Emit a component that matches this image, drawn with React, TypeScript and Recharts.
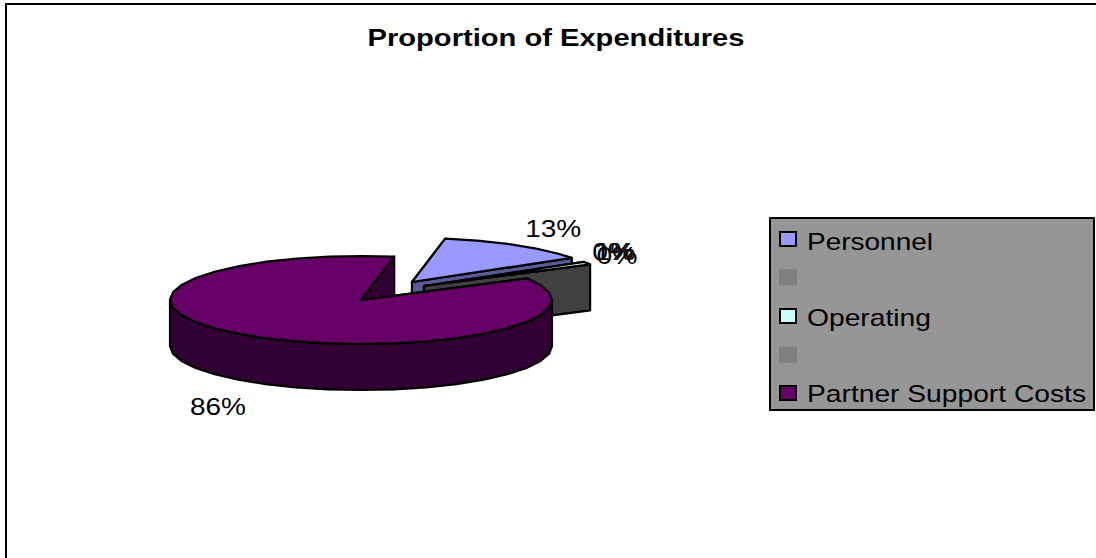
import React from "react";
import { PieChart, Pie, Legend } from "recharts";

// Expenditure shares, in legend order; the two unnamed rows are empty budget lines.
const categories = ["Personnel", "", "Operating", "", "Partner Support Costs"];
const shares = [13, 0, 1, 0, 86];
const topColors = ["#9999FF", "#808080", "#CCFFFF", "#808080", "#660066"];
const sideColors = ["#5A5A96", "#808080", "#404040", "#808080", "#330033"];

// Slices pulled away from the pie centre, in pixels.
const pullX = [51, 63, 63, 63, 0];
const pullY = [-18, -14, -14, -14, 0];

// Label shift from the slice's mid-angle position on the rim.
const labelShiftX = [36, 29, 28, 27, -33];
const labelShiftY = [-8, -2, -3, 0, 79];

// Rendered widths of the legend entries, in pixels.
const legendWidths: Record<string, number> = {
  Personnel: 126,
  Operating: 124,
  "Partner Support Costs": 279,
};

const rows = categories.map((name, i) => ({ name, value: shares[i], fill: topColors[i], id: i }));

const WIDTH = 1096;
const HEIGHT = 558;
const TILT = 44 / 191;
const DEPTH = 46;
const ARC_STEP = 10;

const rim = (cx: number, cy: number, r: number, deg: number): [number, number] => {
  const a = (deg * Math.PI) / 180;
  return [cx + r * Math.cos(a), cy - r * TILT * Math.sin(a)];
};

// Faceted run of rim points from one angle to a lower one.
const arcPoints = (cx: number, cy: number, r: number, from: number, to: number) => {
  const pts: [number, number][] = [];
  for (let d = from; d > to; d -= ARC_STEP) pts.push(rim(cx, cy, r, d));
  pts.push(rim(cx, cy, r, to));
  return pts;
};

const toPath = (pts: [number, number][]) =>
  "M" + pts.map(([x, y]) => `${x.toFixed(1)},${y.toFixed(1)}`).join("L") + "Z";

const strokeProps = { stroke: "#000", strokeWidth: 2.2, strokeLinejoin: "round" as const };

// Draws one slice as a tilted wedge: cut faces, outer wall, then the top.
function TiltedSlice(props: any) {
  const { cx, cy, outerRadius: r, startAngle, endAngle, payload } = props;
  const id = payload?.id ?? props.id;
  if (!(startAngle - endAngle > 0)) return null;
  const x0 = cx + pullX[id];
  const y0 = cy + pullY[id];
  const top = arcPoints(x0, y0, r, startAngle, endAngle);
  const face = (deg: number) => {
    const [px, py] = rim(x0, y0, r, deg);
    return toPath([
      [x0, y0],
      [px, py],
      [px, py + DEPTH],
      [x0, y0 + DEPTH],
    ]);
  };
  // The outer wall only shows on the near half of the ellipse.
  const wallFrom = Math.min(startAngle, 0);
  const wallTo = Math.max(endAngle, -180);
  const wall = wallFrom > wallTo ? arcPoints(x0, y0, r, wallFrom, wallTo) : null;
  return (
    <g>
      <path d={face(startAngle)} fill={sideColors[id]} {...strokeProps} />
      <path d={face(endAngle)} fill={sideColors[id]} {...strokeProps} />
      {wall && (
        <path
          d={toPath([...wall, ...wall.map(([x, y]) => [x, y + DEPTH] as [number, number]).reverse()])}
          fill={sideColors[id]}
          {...strokeProps}
        />
      )}
      <path d={toPath([[x0, y0], ...top])} fill={topColors[id]} {...strokeProps} />
    </g>
  );
}

function SliceLabel(props: any) {
  const { cx, cy, outerRadius: r, midAngle, percent, payload } = props;
  const id = payload?.id ?? props.id ?? props.index;
  const [x, y] = rim(cx + pullX[id], cy + pullY[id], r, midAngle);
  const text = `${Math.round(percent * 100)}%`;
  return (
    <text
      x={x + labelShiftX[id]}
      y={y + labelShiftY[id]}
      textAnchor="middle"
      fontFamily="Liberation Sans"
      fontSize={24}
      fill="#000"
      textLength={text.length === 3 ? 56 : 41}
      lengthAdjust="spacingAndGlyphs"
    >
      {text}
    </text>
  );
}

function ExpenditureLegend({ payload }: any) {
  return (
    <svg width={326} height={194} style={{ display: "block" }}>
      <rect x={1} y={1} width={324} height={192} fill="#969696" stroke="#000" strokeWidth={2} />
      {(payload ?? []).map((entry: any, i: number) => {
        const named = entry.value !== "" && entry.value != null;
        const y = 22 + i * 38.5;
        return (
          <g key={i}>
            <rect
              x={named ? 11 : 10}
              y={y - (named ? 7 : 8)}
              width={named ? 16 : 18}
              height={named ? 14 : 16}
              fill={entry.color}
              stroke={named ? "#000" : "none"}
              strokeWidth={2}
            />
            {named && (
              <text
                x={38}
                y={33 + i * 38}
                fontFamily="Liberation Sans"
                fontSize={24}
                fill="#000"
                textLength={legendWidths[entry.value]}
                lengthAdjust="spacingAndGlyphs"
              >
                {entry.value}
              </text>
            )}
          </g>
        );
      })}
    </svg>
  );
}

export default function App() {
  return (
    <div style={{ position: "absolute", left: 0, top: 0, width: WIDTH, height: HEIGHT, background: "#fff", overflow: "hidden" }}>
      <PieChart width={WIDTH} height={HEIGHT} margin={{ top: 0, right: 0, bottom: 0, left: 0 }}>
        <path d={`M6,${HEIGHT} V4 H${WIDTH}`} fill="none" stroke="#000" strokeWidth={2} />
        <text
          x={556}
          y={46}
          textAnchor="middle"
          fontFamily="Liberation Sans"
          fontWeight="bold"
          fontSize={23}
          fill="#000"
          textLength={377}
          lengthAdjust="spacingAndGlyphs"
        >
          Proportion of Expenditures
        </text>
        <Pie
          data={rows}
          dataKey="value"
          nameKey="name"
          cx={361}
          cy={300}
          innerRadius={0}
          outerRadius={191}
          startAngle={80}
          endAngle={-280}
          isAnimationActive={false}
          stroke="none"
          shape={TiltedSlice}
          inactiveShape={TiltedSlice}
          activeShape={TiltedSlice}
          label={SliceLabel}
          labelLine={false}
          rootTabIndex={-1}
        />
        <Legend
          content={ExpenditureLegend}
          itemSorter={null}
          wrapperStyle={{ position: "absolute", left: 769, top: 217, width: 326, height: 194, right: "auto", bottom: "auto" }}
        />
      </PieChart>
    </div>
  );
}
